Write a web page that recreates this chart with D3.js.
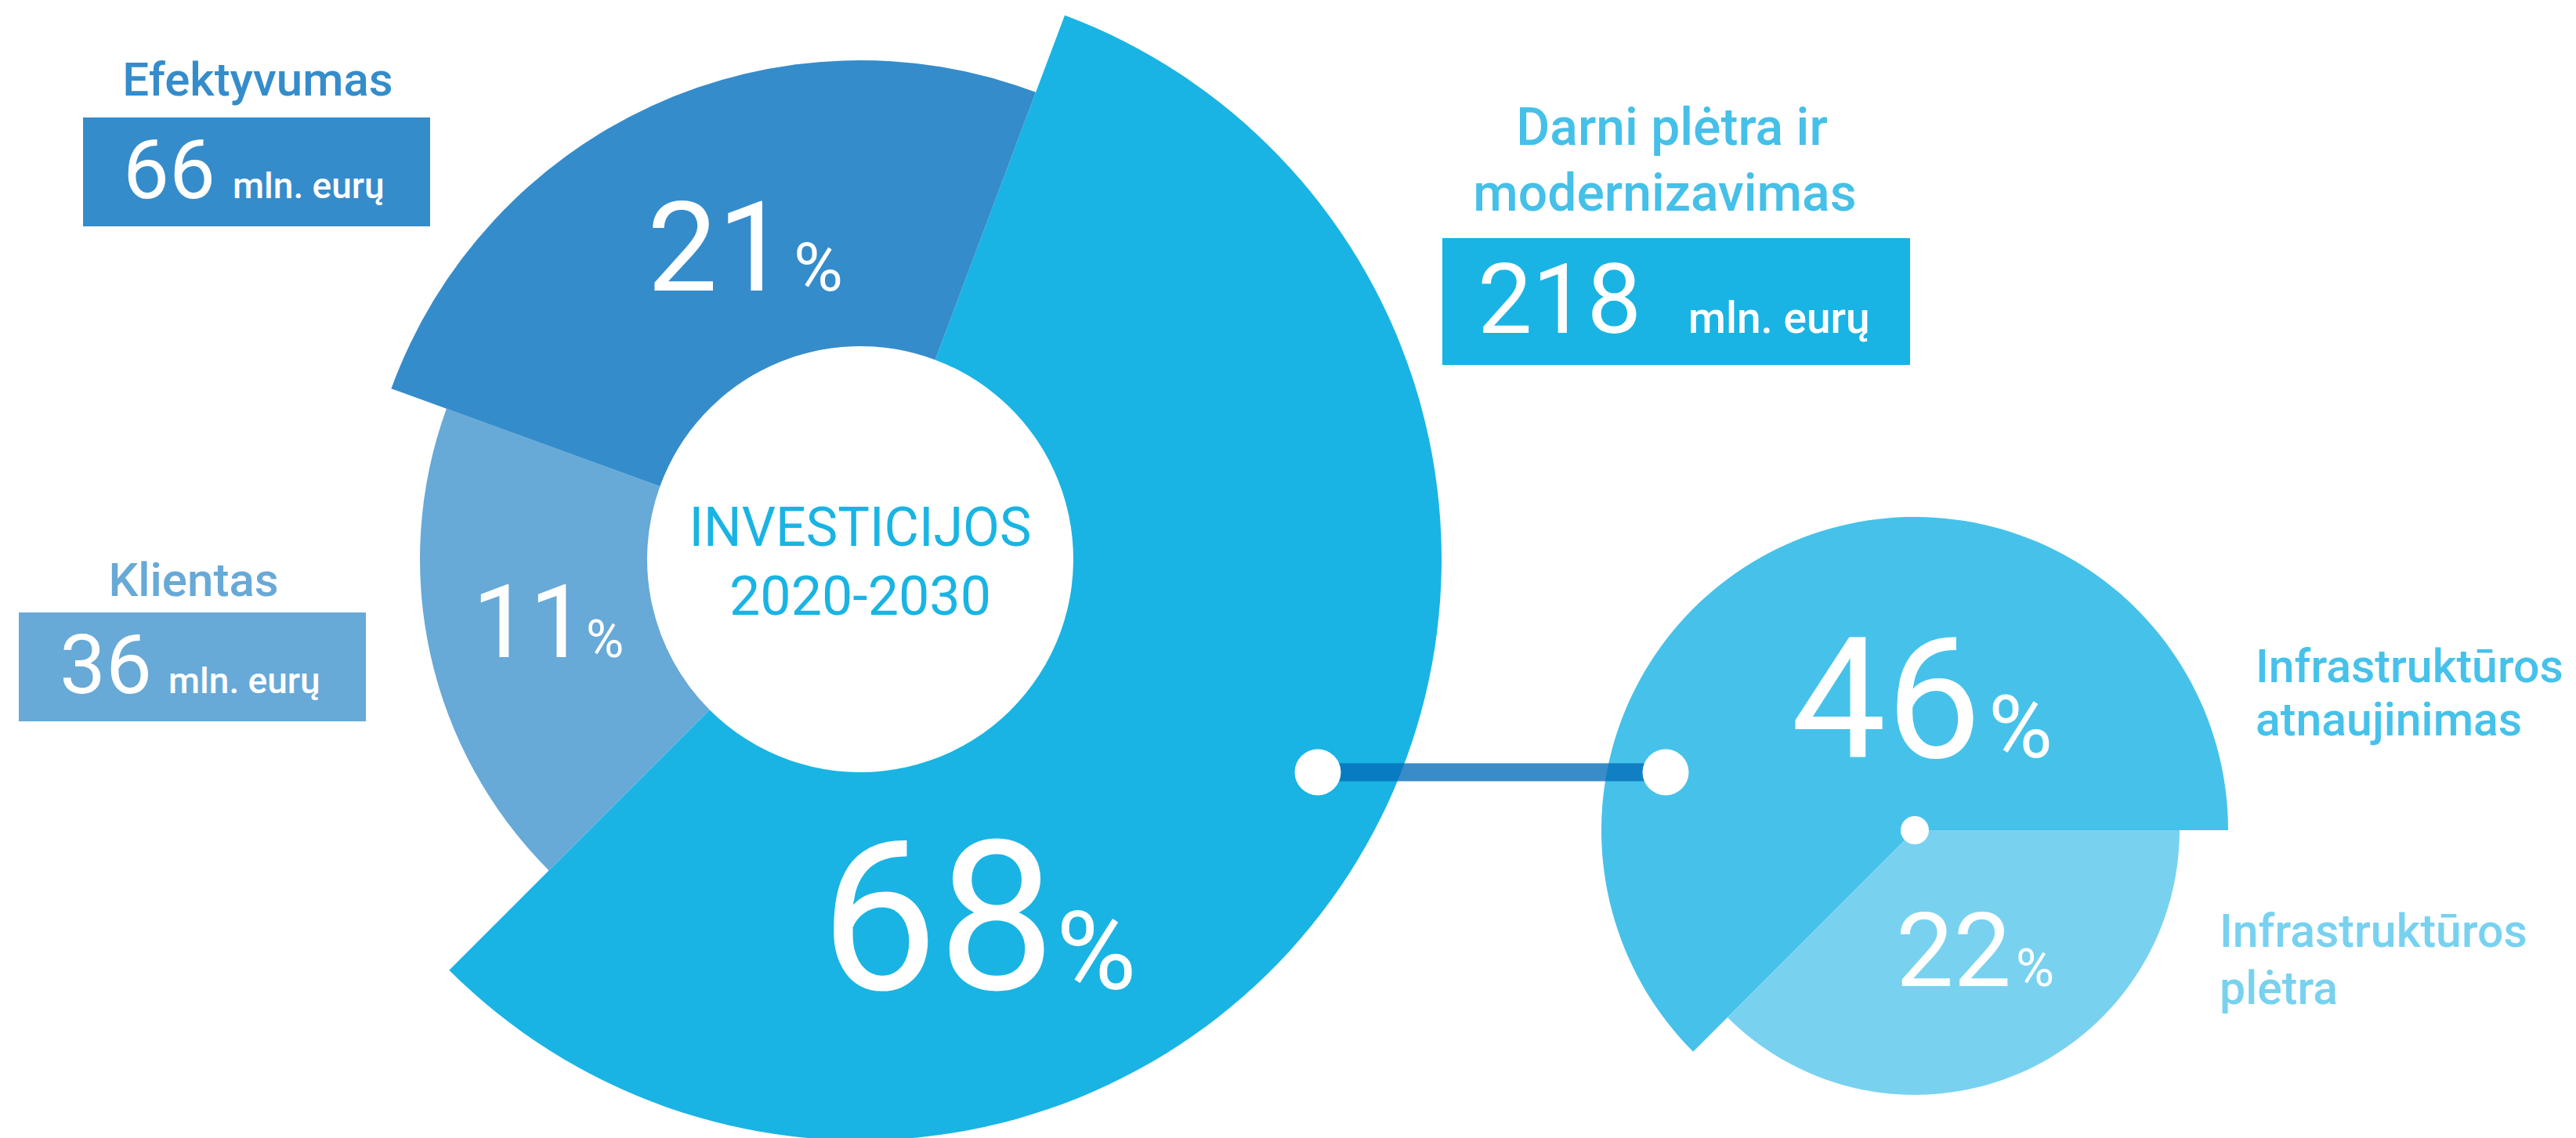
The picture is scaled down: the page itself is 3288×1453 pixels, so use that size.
<!DOCTYPE html>
<html>
<head>
<meta charset="utf-8">
<script src="https://cdn.jsdelivr.net/npm/d3@7"></script>
<style>
  html, body { margin: 0; padding: 0; background: #ffffff; }
  svg { display: block; }
  text { font-family: Roboto, "Open Sans", sans-serif; }
</style>
</head>
<body>
<svg id="chart" width="3288" height="1453"></svg>
<script>
// ---------- DATA ----------
const mainCategories = ["Darni plėtra ir modernizavimas", "Klientas", "Efektyvumas"];
const mainShares = [68, 11, 21];          // %
const mainAmounts = [218, 36, 66];        // mln. eurų
const subCategories = ["Infrastruktūros atnaujinimas", "Infrastruktūros plėtra"];
const subShares = [46, 22];               // % (breakdown of "Darni plėtra ir modernizavimas")
const centerTitle = ["INVESTICIJOS", "2020-2030"];
const unitLabel = "mln. eurų";

// ---------- LAYOUT (design, not data) ----------
const W = 3288, H = 1453;
const mainCenter = [1098, 714];
const mainInner = 272;
const mainArcsLayout = [            // degrees, clockwise from 12 o'clock
  { start: 20.6, end: 225, outer: 742, color: "#19b4e3" },
  { start: 225, end: 290, outer: 562, color: "#67a9d7" },
  { start: 290, end: 380.6, outer: 637, color: "#358ccb" }
];
const subCenter = [2444, 1060];
const subArcsLayout = [
  { start: -135, end: 90, outer: 400, color: "#46c2ea" },
  { start: 90, end: 225, outer: 338, color: "#78d2ef" }
];
const mainPctLayout = [
  { numX: 1047, pctX: 1348, y: 1263, numSize: 267, pctSize: 140 },
  { numX: 603, pctX: 748, y: 839, numSize: 130, pctSize: 66 },
  { numX: 826, pctX: 1013, y: 371, numSize: 160, pctSize: 86 }
];
const subPctLayout = [
  { numX: 2286, pctX: 2538, y: 967, numSize: 216, pctSize: 112 },
  { numX: 2420, pctX: 2573, y: 1259, numSize: 131, pctSize: 67 }
];
const mainLabelLayout = [
  { lines: ["Darni plėtra ir", "modernizavimas"], xs: [2134, 2125], ys: [185, 269], size: 66, anchor: "middle", color: "#45c0e8",
    box: { x: 1841, y: 304, w: 597, h: 162, color: "#19b4e3" }, numX: 1886, unitX: 2155, baseY: 425, numSize: 124, unitSize: 55 },
  { lines: ["Klientas"], xs: [247], ys: [761], size: 60, anchor: "middle", color: "#67a9d7",
    box: { x: 24, y: 782, w: 443, h: 139, color: "#67a9d7" }, numX: 76, unitX: 215, baseY: 885, numSize: 105, unitSize: 46 },
  { lines: ["Efektyvumas"], xs: [329], ys: [122], size: 60, anchor: "middle", color: "#358ccb",
    box: { x: 106, y: 150, w: 443, h: 139, color: "#358ccb" }, numX: 157, unitX: 297, baseY: 253, numSize: 105, unitSize: 46 }
];
const subLabelLayout = [
  { x: 2879, ys: [871, 939], size: 59, color: "#46c2ea" },
  { x: 2833, ys: [1209, 1282], size: 59, color: "#78d2ef" }
];
const connector = { x1: 1682, x2: 2126, y: 986, width: 23, dotR: 29.5, color: "rgb(3,108,185)", opacity: 0.78 };

// ---------- DRAW ----------
const svg = d3.select("#chart");
const deg = d3.scaleLinear().domain([0, 360]).range([0, 2 * Math.PI]);
const arc = d3.arc();

// main donut
const gMain = svg.append("g").attr("transform", `translate(${mainCenter[0]},${mainCenter[1]})`);
gMain.selectAll("path").data(mainShares).join("path")
  .attr("d", (d, i) => arc({
    innerRadius: mainInner, outerRadius: mainArcsLayout[i].outer,
    startAngle: deg(mainArcsLayout[i].start), endAngle: deg(mainArcsLayout[i].end)
  }))
  .attr("fill", (d, i) => mainArcsLayout[i].color);

// sub pie
const gSub = svg.append("g").attr("transform", `translate(${subCenter[0]},${subCenter[1]})`);
gSub.selectAll("path").data(subShares).join("path")
  .attr("d", (d, i) => arc({
    innerRadius: 0, outerRadius: subArcsLayout[i].outer,
    startAngle: deg(subArcsLayout[i].start), endAngle: deg(subArcsLayout[i].end)
  }))
  .attr("fill", (d, i) => subArcsLayout[i].color);
gSub.append("circle").attr("r", 18).attr("fill", "#fff");

// connector
svg.append("line")
  .attr("x1", connector.x1).attr("x2", connector.x2)
  .attr("y1", connector.y).attr("y2", connector.y)
  .attr("stroke", connector.color).attr("stroke-opacity", connector.opacity)
  .attr("stroke-width", connector.width);
svg.selectAll("circle.dot").data([connector.x1, connector.x2]).join("circle")
  .attr("class", "dot").attr("cx", d => d).attr("cy", connector.y)
  .attr("r", connector.dotR).attr("fill", "#fff");

// center title
svg.append("text").attr("x", mainCenter[0]).attr("y", 697).attr("text-anchor", "middle")
  .attr("font-size", 71).attr("fill", "#19b4e3").attr("font-weight", 400)
  .attr("textLength", 437).attr("lengthAdjust", "spacingAndGlyphs")
  .text(centerTitle[0]);
svg.append("text").attr("x", mainCenter[0]).attr("y", 785).attr("text-anchor", "middle")
  .attr("font-size", 70).attr("fill", "#19b4e3").attr("font-weight", 400)
  .text(centerTitle[1]);

// percentage labels
function pctLabel(value, L) {
  const t = svg.append("text").attr("fill", "#fff").attr("font-weight", 400).attr("y", L.y);
  t.append("tspan").attr("x", L.numX).attr("font-size", L.numSize).text(value);
  t.append("tspan").attr("x", L.pctX).attr("font-size", L.pctSize).text("%");
}
mainShares.forEach((v, i) => pctLabel(v, mainPctLayout[i]));
subShares.forEach((v, i) => pctLabel(v, subPctLayout[i]));

// main category labels + amount boxes
mainCategories.forEach((name, i) => {
  const L = mainLabelLayout[i];
  L.lines.forEach((line, j) => {
    svg.append("text").attr("x", L.xs[j]).attr("y", L.ys[j]).attr("text-anchor", L.anchor)
      .attr("font-size", L.size).attr("font-weight", 500).attr("fill", L.color).text(line);
  });
  svg.append("rect").attr("x", L.box.x).attr("y", L.box.y).attr("width", L.box.w).attr("height", L.box.h)
    .attr("fill", L.box.color);
  svg.append("text").attr("x", L.numX).attr("y", L.baseY).attr("font-size", L.numSize)
    .attr("fill", "#fff").attr("font-weight", 400).text(mainAmounts[i]);
  svg.append("text").attr("x", L.unitX).attr("y", L.baseY).attr("font-size", L.unitSize)
    .attr("fill", "#fff").attr("font-weight", 500).text(unitLabel);
});

// sub category labels
subCategories.forEach((name, i) => {
  const L = subLabelLayout[i];
  const parts = name.split(" ");
  parts.forEach((p, j) => {
    svg.append("text").attr("x", L.x).attr("y", L.ys[j]).attr("font-size", L.size)
      .attr("font-weight", 500).attr("fill", L.color).text(p);
  });
});
</script>
</body>
</html>
